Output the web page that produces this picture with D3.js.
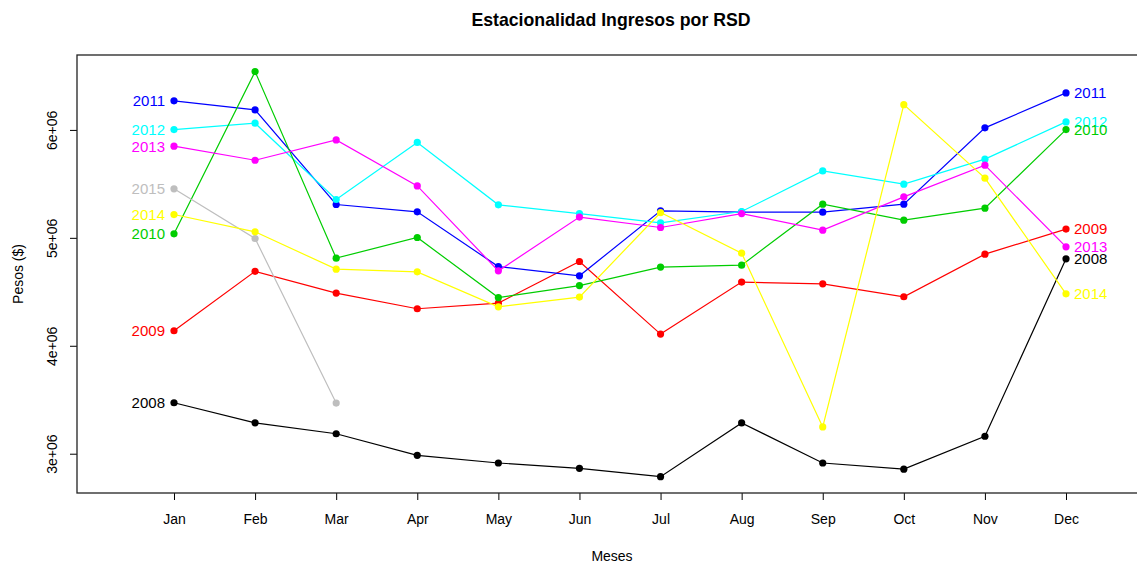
<!DOCTYPE html>
<html>
<head>
<meta charset="utf-8">
<script src="https://cdn.jsdelivr.net/npm/d3@7"></script>
<style>
  body { margin: 0; background: #fff; }
  text { font-family: "Liberation Sans", Arial, sans-serif; }
</style>
</head>
<body>
<div id="chart"></div>
<script>
// datos (pesos por mes)
const meses = ["Jan","Feb","Mar","Apr","May","Jun","Jul","Aug","Sep","Oct","Nov","Dec"]
const anios = [2008, 2009, 2010, 2011, 2012, 2013, 2014, 2015]
const colores = ["black", "#ff0000", "#00cd00", "#0000ff", "#00ffff", "#ff00ff", "#ffff00", "#bebebe"]
const yTicks = [3e6, 4e6, 5e6, 6e6]

const v2008 = [3472000, 3286000, 3185000, 2985000, 2914000, 2865000, 2787000, 3285000, 2914000, 2857000, 3162000, 4806000]
const v2009 = [4139000, 4690000, 4488000, 4343000, 4395000, 4781000, 4108000, 4590000, 4574000, 4454000, 4849000, 5081000]
const v2010 = [5037000, 6540000, 4812000, 5003000, 4447000, 4558000, 4729000, 4747000, 5312000, 5164000, 5275000, 6003000]
const v2011 = [6269000, 6185000, 5309000, 5241000, 4734000, 4648000, 5250000, 5238000, 5238000, 5312000, 6019000, 6343000]
const v2012 = [6003000, 6062000, 5355000, 5884000, 5306000, 5225000, 5139000, 5244000, 5620000, 5497000, 5729000, 6074000]
const v2013 = [5849000, 5719000, 5907000, 5481000, 4694000, 5192000, 5096000, 5225000, 5071000, 5380000, 5673000, 4917000]
const v2014 = [5216000, 5056000, 4710000, 4685000, 4361000, 4451000, 5234000, 4858000, 3248000, 6234000, 5553000, 4481000]
const v2015 = [5454000, 4994000, 3469000]
const valores = [v2008, v2009, v2010, v2011, v2012, v2013, v2014, v2015]

// orden de dibujo (indices de anios)
const ordenDibujo = [0, 1, 3, 4, 2, 5, 7, 6]

const ancho = 1137
const alto = 563
const caja = { izq: 77, der: 1145, sup: 55, inf: 493 }

const svg = d3.select("#chart").append("svg").attr("width", ancho).attr("height", alto)

// escalas
const x = d3.scaleLinear().domain([-0.196, 12.974]).range([caja.izq, caja.der])
const y = d3.scaleLinear().domain([2636000, 6694000]).range([caja.inf, caja.sup])

// titulo y etiquetas
svg.append("text").attr("x", 611).attr("y", 26).attr("text-anchor", "middle")
  .attr("font-size", 17.7).attr("font-weight", "bold").text("Estacionalidad Ingresos por RSD")
svg.append("text").attr("x", 612).attr("y", 561).attr("text-anchor", "middle")
  .attr("font-size", 14).text("Meses")
svg.append("text").attr("transform", "translate(23,274) rotate(-90)").attr("text-anchor", "middle")
  .attr("font-size", 14).text("Pesos ($)")

// ejes
const ejeX = d3.axisBottom(x).tickValues(d3.range(1, 13)).tickFormat(d => meses[d - 1]).tickSize(7).tickPadding(14)
const grupoX = svg.append("g").attr("transform", `translate(0,${caja.inf})`).call(ejeX)
grupoX.select(".domain").remove()
grupoX.selectAll("text").attr("font-size", 14).attr("font-family", "Liberation Sans, Arial, sans-serif").attr("fill", "#000")

const ejeY = d3.axisLeft(y).tickValues(yTicks).tickFormat(d => `${d / 1e6}e+06`).tickSize(7)
const grupoY = svg.append("g").attr("transform", `translate(${caja.izq},0)`).call(ejeY)
grupoY.select(".domain").remove()
grupoY.selectAll("text")
  .attr("font-size", 14).attr("font-family", "Liberation Sans, Arial, sans-serif").attr("fill", "#000")
  .attr("x", null).attr("dy", null).attr("text-anchor", "middle")
  .attr("transform", "translate(-20,0) rotate(-90)")

// caja
svg.append("rect").attr("x", caja.izq).attr("y", caja.sup)
  .attr("width", caja.der - caja.izq).attr("height", caja.inf - caja.sup)
  .attr("fill", "none").attr("stroke", "#222").attr("stroke-width", 1.3)

const linea = d3.line().x((d, i) => x(i + 1)).y(d => y(d))
const series = ordenDibujo.map(k => ({ anio: anios[k], color: colores[k], datos: valores[k] }))

const grupoSeries = svg.append("g")
series.forEach(s => {
  const g = grupoSeries.append("g")
  g.append("path").datum(s.datos).attr("d", linea)
    .attr("fill", "none").attr("stroke", s.color).attr("stroke-width", 1.2)
  g.selectAll("circle").data(s.datos).enter().append("circle")
    .attr("cx", (d, i) => x(i + 1)).attr("cy", d => y(d)).attr("r", 3.6).attr("fill", s.color)
})

// etiquetas de anio a la izquierda (enero) y derecha (ultimo mes de 12)
series.forEach(s => {
  grupoSeries.append("text").attr("x", x(1) - 9).attr("y", y(s.datos[0])).attr("dy", "0.36em")
    .attr("text-anchor", "end").attr("font-size", 15).attr("fill", s.color).text(s.anio)
  if (s.datos.length === 12) {
    grupoSeries.append("text").attr("x", x(12) + 8).attr("y", y(s.datos[11])).attr("dy", "0.36em")
      .attr("font-size", 15).attr("fill", s.color).text(s.anio)
  }
})
</script>
</body>
</html>
